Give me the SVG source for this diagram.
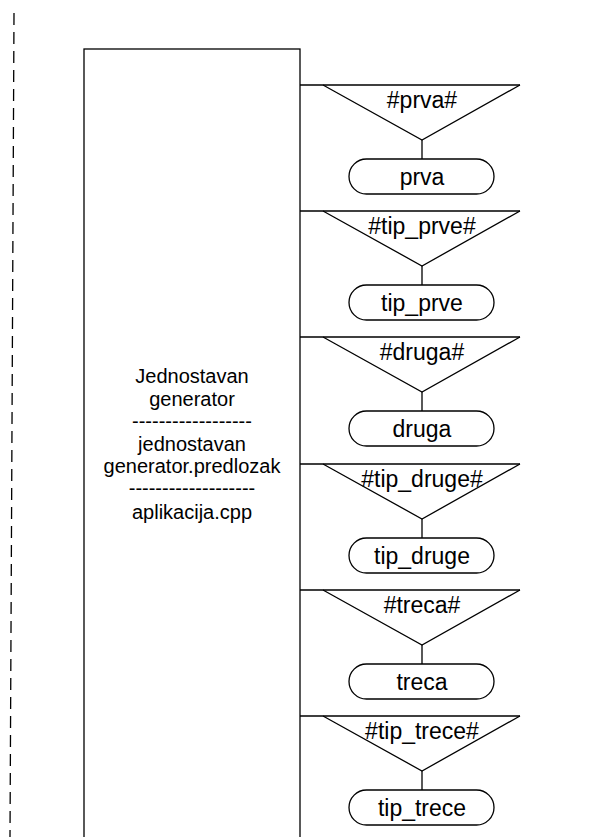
<svg xmlns="http://www.w3.org/2000/svg" width="592" height="837" viewBox="0 0 592 837">
<style>
.s{fill:#fff;stroke:#000;stroke-width:1.3}
.c{fill:none;stroke:#000;stroke-width:1.3}
.t{font-family:"Liberation Sans",Arial,sans-serif;font-size:23px;fill:#000;text-anchor:middle}
.m{font-family:"Liberation Sans",Arial,sans-serif;font-size:20px;fill:#000;text-anchor:middle}
</style>
<rect width="592" height="837" fill="#fff"/>
<g id="boundary"><path d="M14,13 L10,837" fill="none" stroke="#000" stroke-width="1.3" stroke-dasharray="12 7"/></g>
<g id="main"><rect class="s" x="84" y="49" width="216" height="820" stroke-width="1.6"/>
<text class="m" x="192" y="383">Jednostavan</text>
<text class="m" x="192" y="406">generator</text>
<text class="m" x="192" y="428">------------------</text>
<text class="m" x="192" y="451">jednostavan</text>
<text class="m" x="192" y="473">generator.predlozak</text>
<text class="m" x="192" y="495">-------------------</text>
<text class="m" x="192" y="519">aplikacija.cpp</text>
</g>
<g id="connectors">
<path class="c" d="M300,85 H520 M300,211 H520 M300,337 H520 M300,464 H520 M300,590 H520 M300,716 H520"/>
<path class="c" d="M422,140 V159 M422,266 V285 M422,392 V411 M422,519 V538 M422,645 V664 M422,771 V790"/>
</g>
<g id="n1"><path class="c" d="M323,85 L422,140 L520,85"/><text class="t" x="422" y="108">#prva#</text></g>
<g id="n1b"><rect class="s" x="349" y="159" width="145" height="35" rx="17.5"/><text class="t" x="422" y="185">prva</text></g>
<g id="n2"><path class="c" d="M323,211 L422,266 L520,211"/><text class="t" x="422" y="234">#tip_prve#</text></g>
<g id="n2b"><rect class="s" x="349" y="285" width="145" height="35" rx="17.5"/><text class="t" x="422" y="311">tip_prve</text></g>
<g id="n3"><path class="c" d="M323,337 L422,392 L520,337"/><text class="t" x="422" y="360">#druga#</text></g>
<g id="n3b"><rect class="s" x="349" y="411" width="145" height="35" rx="17.5"/><text class="t" x="422" y="437">druga</text></g>
<g id="n4"><path class="c" d="M323,464 L422,519 L520,464"/><text class="t" x="422" y="487">#tip_druge#</text></g>
<g id="n4b"><rect class="s" x="349" y="538" width="145" height="35" rx="17.5"/><text class="t" x="422" y="564">tip_druge</text></g>
<g id="n5"><path class="c" d="M323,590 L422,645 L520,590"/><text class="t" x="422" y="613">#treca#</text></g>
<g id="n5b"><rect class="s" x="349" y="664" width="145" height="35" rx="17.5"/><text class="t" x="422" y="690">treca</text></g>
<g id="n6"><path class="c" d="M323,716 L422,771 L520,716"/><text class="t" x="422" y="739">#tip_trece#</text></g>
<g id="n6b"><rect class="s" x="349" y="790" width="145" height="35" rx="17.5"/><text class="t" x="422" y="816">tip_trece</text></g>
</svg>
